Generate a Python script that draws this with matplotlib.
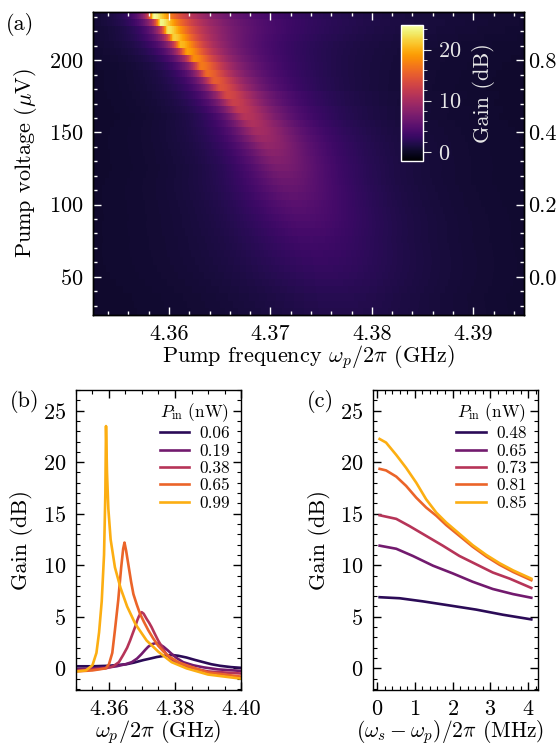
import numpy as np
import matplotlib
matplotlib.use("Agg")
import matplotlib.pyplot as plt
from matplotlib.ticker import MultipleLocator, FormatStrFormatter

# ---- panel (a): gain map, one row per pump voltage ----
volts = [26, 31, 36, 41, 46, 51, 56, 61, 66, 71, 76, 81, 86, 91, 96, 101, 106,
         111, 116, 121, 126, 131, 136, 141, 146, 151, 156, 161, 166, 171, 176,
         181, 186, 191, 196, 201, 206, 211, 216, 221, 226, 231]
peak_freq = [4.3770, 4.3767, 4.3764, 4.3761, 4.3758, 4.3755, 4.3752, 4.3749,
             4.3746, 4.3743, 4.3740, 4.3737, 4.3734, 4.3731, 4.3728, 4.3725,
             4.3722, 4.3719, 4.3716, 4.3713, 4.3710, 4.3706, 4.3702, 4.3698,
             4.3693, 4.3688, 4.3682, 4.3676, 4.3670, 4.3664, 4.3658, 4.3651,
             4.3645, 4.3638, 4.3632, 4.3625, 4.3618, 4.3612, 4.3605, 4.3599,
             4.3592, 4.3585]
peak_gain = [1.7, 1.8, 1.9, 2.1, 2.3, 2.5, 2.7, 2.9, 3.1, 3.3, 3.5, 3.8, 4.1,
             4.4, 4.7, 5.0, 5.4, 5.8, 6.2, 6.6, 7.1, 7.6, 8.1, 8.7, 9.3, 9.9,
             10.5, 11.1, 11.8, 12.5, 13.3, 14.1, 15.0, 15.9, 16.9, 18.0, 19.2,
             20.5, 21.8, 23.0, 24.0, 24.5]
width_right = [0.0094, 0.0091, 0.0088, 0.0085, 0.0082, 0.0079, 0.0076, 0.0073,
               0.0070, 0.0067, 0.0064, 0.0061, 0.0058, 0.0055, 0.0052, 0.0049,
               0.0046, 0.0043, 0.0040, 0.0038, 0.0036, 0.0034, 0.0032, 0.0030,
               0.0028, 0.0026, 0.0024, 0.0022, 0.0021, 0.0019, 0.0018, 0.0016,
               0.0015, 0.0014, 0.0013, 0.0012, 0.0011, 0.0010, 0.00095, 0.0009,
               0.00085, 0.0008]
width_left = [0.0098, 0.0094, 0.0090, 0.0086, 0.0082, 0.0078, 0.0074, 0.0070,
              0.0066, 0.0062, 0.0058, 0.0054, 0.0050, 0.0046, 0.0043, 0.0040,
              0.0037, 0.0034, 0.0031, 0.0028, 0.0025, 0.0023, 0.0021, 0.0019,
              0.0017, 0.0015, 0.0013, 0.0011, 0.0010, 0.0009, 0.0008, 0.0007,
              0.0006, 0.0005, 0.00045, 0.0004, 0.00035, 0.0003, 0.00025, 0.0002,
              0.00018, 0.00015]
right_ticks = [50, 100, 150, 200]
right_labels = ["0.0", "0.2", "0.4", "0.8"]

# ---- panel (b): gain vs pump frequency ----
b_power = ["0.06", "0.19", "0.38", "0.65", "0.99"]
b_freq = [
    [4.350, 4.355, 4.360, 4.3653, 4.3675, 4.3704, 4.3725, 4.3745, 4.3768, 4.379,
     4.381, 4.3835, 4.386, 4.3886, 4.391, 4.3936, 4.397, 4.400],
    [4.350, 4.355, 4.360, 4.3623, 4.3650, 4.3669, 4.3685, 4.3699, 4.3710, 4.3719,
     4.3730, 4.3742, 4.3753, 4.3765, 4.3778, 4.3790, 4.3805, 4.3825, 4.3855,
     4.3886, 4.3930, 4.400],
    [4.350, 4.355, 4.359, 4.3613, 4.3630, 4.3643, 4.3655, 4.3664, 4.3672, 4.3679,
     4.3685, 4.3690, 4.3695, 4.3699, 4.3705, 4.3714, 4.3722, 4.3729, 4.3738,
     4.3749, 4.3762, 4.3775, 4.3790, 4.3805, 4.3830, 4.3855, 4.3900, 4.4000],
    [4.350, 4.355, 4.359, 4.3600, 4.3610, 4.3618, 4.3628, 4.3637, 4.3643, 4.3647,
     4.3652, 4.3660, 4.3667, 4.3674, 4.3684, 4.3694, 4.3706, 4.3719, 4.3734,
     4.3749, 4.3766, 4.3785, 4.3810, 4.3835, 4.3900, 4.4000],
    [4.350, 4.353, 4.355, 4.3562, 4.3570, 4.3578, 4.3585, 4.3589, 4.3591, 4.3594,
     4.3598, 4.3605, 4.3618, 4.3635, 4.3655, 4.3680, 4.3714, 4.3750, 4.3790,
     4.3835, 4.3900, 4.4000],
]
b_gain = [
    [0.2, 0.2, 0.25, 0.4, 0.55, 0.8, 0.95, 1.1, 1.22, 1.3, 1.22, 1.05, 0.82,
     0.6, 0.4, 0.25, 0.12, 0.05],
    [-0.1, 0.0, 0.1, 0.2, 0.4, 0.6, 0.95, 1.4, 1.8, 2.1, 2.35, 2.45, 2.35, 2.1,
     1.75, 1.4, 1.0, 0.6, 0.3, 0.1, -0.1, -0.25],
    [-0.2, -0.1, 0.0, 0.2, 0.6, 1.3, 2.0, 2.7, 3.4, 4.0, 4.6, 5.0, 5.3, 5.45,
     5.3, 4.8, 4.4, 4.0, 3.4, 2.7, 2.0, 1.3, 0.85, 0.5, 0.2, 0.0, -0.3, -0.5],
    [-0.3, -0.2, 0.0, 0.4, 1.5, 3.7, 6.6, 9.8, 11.6, 12.2, 11.4, 9.8, 8.4, 7.2,
     6.2, 5.3, 4.5, 3.7, 2.9, 2.2, 1.6, 1.1, 0.6, 0.3, -0.4, -0.8],
    [-0.3, -0.2, 0.3, 1.5, 3.5, 6.5, 11.0, 17.0, 23.5, 19.0, 15.5, 12.5, 9.8,
     7.8, 6.0, 4.3, 2.7, 1.6, 0.6, 0.0, -0.6, -1.0],
]

# ---- panel (c): gain vs detuning ----
c_power = ["0.48", "0.65", "0.73", "0.81", "0.85"]
c_det = [
    [0.07, 0.60, 1.21, 1.92, 2.62, 3.33, 4.08],
    [0.07, 0.51, 0.95, 1.48, 2.01, 2.53, 3.06, 3.60, 4.08],
    [0.07, 0.51, 0.86, 1.30, 1.74, 2.18, 2.62, 3.06, 3.51, 4.08],
    [0.07, 0.24, 0.51, 0.77, 1.04, 1.30, 1.57, 1.83, 2.18, 2.53, 2.89, 3.24, 3.60, 4.08],
    [0.07, 0.24, 0.51, 0.77, 1.04, 1.30, 1.57, 1.83, 2.18, 2.53, 2.89, 3.24, 3.60, 4.08],
]
c_gain = [
    [6.9, 6.8, 6.5, 6.1, 5.7, 5.2, 4.75],
    [11.9, 11.6, 10.9, 9.96, 9.2, 8.4, 7.7, 7.2, 6.85],
    [14.85, 14.5, 13.8, 12.85, 11.9, 10.9, 10.1, 9.3, 8.7, 7.8],
    [19.35, 19.2, 18.6, 17.7, 16.55, 15.6, 14.8, 13.9, 12.85, 11.8, 10.85, 10.05, 9.35, 8.55],
    [22.25, 21.9, 20.7, 19.45, 18.0, 16.4, 15.1, 14.15, 13.05, 11.95, 11.0, 10.2, 9.5, 8.7],
]

plt.rcParams["font.family"] = "cmr10"
plt.rcParams["mathtext.fontset"] = "cm"
plt.rcParams["axes.formatter.use_mathtext"] = True
plt.rcParams["font.size"] = 16
plt.rcParams["axes.linewidth"] = 1.0

line_colors = plt.cm.inferno(np.linspace(0.15, 0.82, 5))

fig = plt.figure(figsize=(5.57, 7.5), dpi=100)

# ---------------- (a) ----------------
ax = fig.add_axes([0.1668, 0.58, 0.774, 0.404])
f_edges = np.linspace(4.3525, 4.395, 641)
f_mid = 0.5 * (f_edges[1:] + f_edges[:-1])
v_edges = np.append(np.array(volts) - 2.5, volts[-1] + 2.5)
gain_map = []
for f0, g, wl, wr in zip(peak_freq, peak_gain, width_left, width_right):
    d = f_mid - f0
    w = np.where(d < 0, wl, wr)
    ex = (10 ** (g / 10) - 1) / (1 + (d / w) ** 2)
    gain_map.append(10 * np.log10(1 + ex))
gain_map = np.array(gain_map)
mesh = ax.pcolormesh(f_edges, v_edges, gain_map, cmap="inferno",
                     vmin=-1.8, vmax=24.8, shading="flat", rasterized=True)
ax.set_xlim(4.3525, 4.395)
ax.set_ylim(23.5, 233.5)
ax.xaxis.set_major_locator(MultipleLocator(0.01))
ax.xaxis.set_minor_locator(MultipleLocator(0.002))
ax.xaxis.set_major_formatter(FormatStrFormatter("%.2f"))
ax.yaxis.set_major_locator(MultipleLocator(50))
ax.yaxis.set_minor_locator(MultipleLocator(10))
ax.tick_params(which="both", direction="in", top=True, right=False,
               color="white", pad=7)
ax.tick_params(which="major", length=6, width=1.0)
ax.tick_params(which="minor", length=3, width=1.0)
ax.set_xlabel(r"Pump frequency $\omega_p/2\pi$ (GHz)", labelpad=-1)
ax.set_ylabel(r"Pump voltage ($\mu$V)")
ax.yaxis.set_label_coords(-0.125, 0.5)

ax2 = ax.twinx()
ax2.set_ylim(23.5, 233.5)
ax2.set_yticks(right_ticks)
ax2.set_yticklabels(right_labels)
ax2.yaxis.set_minor_locator(MultipleLocator(10))
ax2.tick_params(which="both", direction="in", color="white", pad=3)
ax2.tick_params(which="major", length=6, width=1.0)
ax2.tick_params(which="minor", length=3, width=1.0)

cax = fig.add_axes([0.7194, 0.7853, 0.0395, 0.1813])
cb = fig.colorbar(mesh, cax=cax)
cb.outline.set_edgecolor("white")
cb.ax.yaxis.set_major_locator(MultipleLocator(10))
cb.ax.yaxis.set_minor_locator(MultipleLocator(2))
cb.ax.tick_params(which="both", direction="out", colors="#e8e8e8", pad=5)
cb.ax.tick_params(which="major", length=6)
cb.ax.tick_params(which="minor", length=3)
cb.set_label("Gain (dB)", color="#e8e8e8", labelpad=8)

fig.text(0.011, 0.968, "(a)", va="center")

# ---------------- (b) ----------------
axb = fig.add_axes([0.1364, 0.08, 0.2963, 0.40])
for xs, ys, lab, col in zip(b_freq, b_gain, b_power, line_colors):
    axb.plot(xs, ys, color=col, lw=1.9, label=lab)
axb.set_xlim(4.35, 4.40)
axb.set_ylim(-2.1, 27)
axb.xaxis.set_major_locator(MultipleLocator(0.02))
axb.xaxis.set_minor_locator(MultipleLocator(0.005))
axb.xaxis.set_major_formatter(FormatStrFormatter("%.2f"))
axb.set_xlabel(r"$\omega_p/2\pi$ (GHz)")
axb.xaxis.set_label_coords(0.5, -0.095)
axb.set_ylabel("Gain (dB)")
axb.yaxis.set_label_coords(-0.26, 0.5)

# ---------------- (c) ----------------
axc = fig.add_axes([0.670, 0.08, 0.2954, 0.40])
for xs, ys, lab, col in zip(c_det, c_gain, c_power, line_colors):
    axc.plot(xs, ys, color=col, lw=1.9, label=lab)
axc.set_xlim(-0.1, 4.25)
axc.set_ylim(-2.1, 27)
axc.xaxis.set_major_locator(MultipleLocator(1))
axc.xaxis.set_minor_locator(MultipleLocator(0.2))
axc.set_xlabel(r"$(\omega_s-\omega_p)/2\pi$ (MHz)", fontsize=15.5)
axc.xaxis.set_label_coords(0.47, -0.095)
axc.set_ylabel("Gain (dB)")
axc.yaxis.set_label_coords(-0.257, 0.5)

for a in (axb, axc):
    a.yaxis.set_major_locator(MultipleLocator(5))
    a.yaxis.set_minor_locator(MultipleLocator(1))
    a.tick_params(which="both", direction="in", top=True, right=True, pad=7)
    a.tick_params(which="major", length=6, width=1.0)
    a.tick_params(which="minor", length=3, width=0.8)
    a.legend(title=r"$P_{\rm in}$ (nW)", loc="upper right", frameon=False,
             fontsize=12.4, title_fontsize=12.4, handlelength=1.7,
             labelspacing=0.12, borderaxespad=0.25, handletextpad=0.6)

fig.text(0.018, 0.4653, "(b)", va="center")
fig.text(0.551, 0.4653, "(c)", va="center")

fig.savefig("out.png", dpi=100)
